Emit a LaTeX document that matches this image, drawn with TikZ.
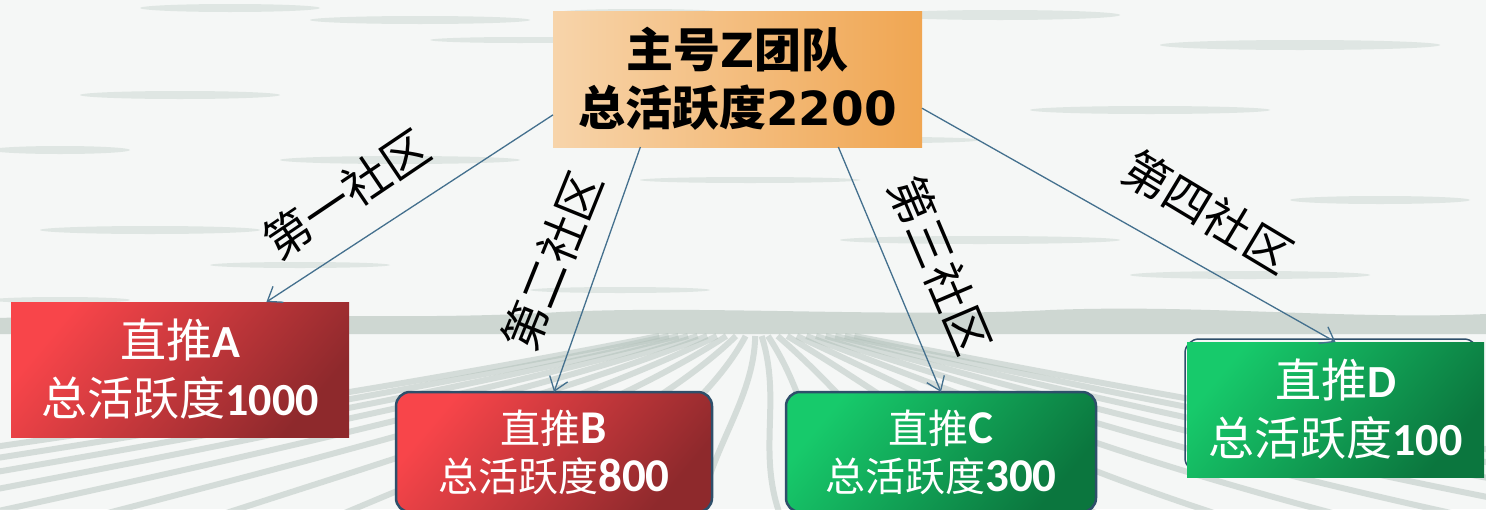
\documentclass[tikz,border=0pt]{standalone}
\usepackage{fontspec}
\usetikzlibrary{arrows.meta}
\newfontfamily\cjk{Noto Sans CJK SC}
\newfontfamily\carl{Carlito}
\newfontfamily\djv{DejaVu Sans}
\definecolor{bgc}{HTML}{F5F7F6}
\definecolor{smudge}{HTML}{C5D2CC}
\definecolor{furrow}{HTML}{AEBDB6}
\definecolor{orL}{HTML}{F7D4AA}
\definecolor{orR}{HTML}{F0A652}
\definecolor{redL}{HTML}{F8454A}
\definecolor{redR}{HTML}{8E292C}
\definecolor{grnL}{HTML}{17CA6B}
\definecolor{grnR}{HTML}{0B763E}
\definecolor{arrowc}{HTML}{44708E}
\definecolor{framec}{HTML}{2E4F6A}
\begin{document}
\begin{tikzpicture}[x=1pt,y=-1pt,
  box/.style={rectangle,inner sep=0pt,outer sep=0pt,align=center,text=white},
  redbox/.style={box,top color=redL,bottom color=redR,shading angle=50},
  grnbox/.style={box,top color=grnL,bottom color=grnR,shading angle=50},
  bigtxt/.style={font=\fontsize{46}{58}\selectfont},
  smalltxt/.style={font=\fontsize{40}{48}\selectfont},
  conn/.style={draw=arrowc,line width=1.3pt,-{Straight Barb[length=13pt,width=19pt]}},
  lab/.style={font=\cjk\fontsize{47}{50}\selectfont,text=black,inner sep=0pt}]
\useasboundingbox (0,0) rectangle (1486,509);
% background
\fill[bgc] (0,0) rectangle (1486,509);
\foreach \x/\y/\rx/\ry in {230/8/90/4,420/20/110/4,640/12/80/3,1000/15/120/5,1300/45/140/5,
  180/95/100/4,520/40/90/3,1150/110/120/4,900/140/80/3,60/150/70/4,
  400/160/120/4,750/180/110/3,1380/200/90/4,150/230/110/4,980/240/140/4,
  300/265/90/3,1250/275/120/4,620/290/90/3,60/300/70/3}
  \fill[smudge,opacity=0.45] (\x,\y) ellipse [x radius=\rx,y radius=\ry];
\fill[furrow,opacity=0.55] (0,318) .. controls (200,310) and (400,322) .. (560,312)
  .. controls (700,305) and (900,318) .. (1050,310) .. controls (1200,304) and (1350,320) .. (1486,314)
  -- (1486,334) -- (0,334) -- cycle;
\foreach \b in {-500,-380,-260,-140,-20,100,220,340,460,580,700,780,860,980,1100,1220,1340,1460,1580,1700,1820,1940}
  \draw[furrow,opacity=0.45,line width=6pt]
    ({760+(\b-760)*0.08},336) .. controls ({760+(\b-760)*0.35+15},400) and ({760+(\b-760)*0.6-15},450) .. (\b,515);
% nodes
\node[box,text=black,left color=orL,right color=orR,minimum width=369pt,minimum height=136pt,
  font=\fontsize{47}{58}\selectfont] (top) at (737.5,79)
  {{\cjk\bfseries 主号}{\djv\bfseries Z}{\cjk\bfseries 团队}\\{\cjk\bfseries 总活跃度}{\djv\bfseries 2200}};
\node[redbox,bigtxt,minimum width=338pt,minimum height=135pt] (A) at (180,369.5)
  {{\cjk 直推}{\carl\bfseries A}\\{\cjk 总活跃度}{\carl\bfseries 1000}};
\node[redbox,smalltxt,draw=framec,line width=2.5pt,rounded corners=14pt,minimum width=316pt,minimum height=120pt] (B) at (554,452)
  {{\cjk 直推}{\carl\bfseries\fontsize{47}{48}\selectfont B}\\{\cjk 总活跃度}{\carl\bfseries\fontsize{47}{48}\selectfont 800}};
\node[grnbox,smalltxt,draw=framec,line width=2.5pt,rounded corners=14pt,minimum width=310pt,minimum height=120pt] (C) at (941,452)
  {{\cjk 直推}{\carl\bfseries\fontsize{47}{48}\selectfont C}\\{\cjk 总活跃度}{\carl\bfseries\fontsize{47}{48}\selectfont 300}};
\node[box,draw=framec,line width=1.5pt,rounded corners=14pt,minimum width=293pt,minimum height=133pt] (Dframe) at (1331.5,405.5) {};
\node[grnbox,bigtxt,minimum width=297pt,minimum height=135pt] (D) at (1335.5,409.5)
  {{\cjk 直推}{\carl\bfseries D}\\{\cjk 总活跃度}{\carl\bfseries 100}};
% connectors
\draw[conn] (top.191.6) -- (A.38);
\draw[conn] (top.215.9) -- (B.north);
\draw[conn] (top.326.8) -- (C.north);
\draw[conn] (top.351.1) -- (D.north);
% labels
\node[lab,rotate=34] (l1) at (346,194) {第一社区};
\node[lab,rotate=68] (l2) at (552.5,261) {第二社区};
\node[lab,rotate=-67] (l3) at (940.5,265) {第三社区};
\node[lab,rotate=-31] (l4) at (1208,211.5) {第四社区};
\end{tikzpicture}
\end{document}
